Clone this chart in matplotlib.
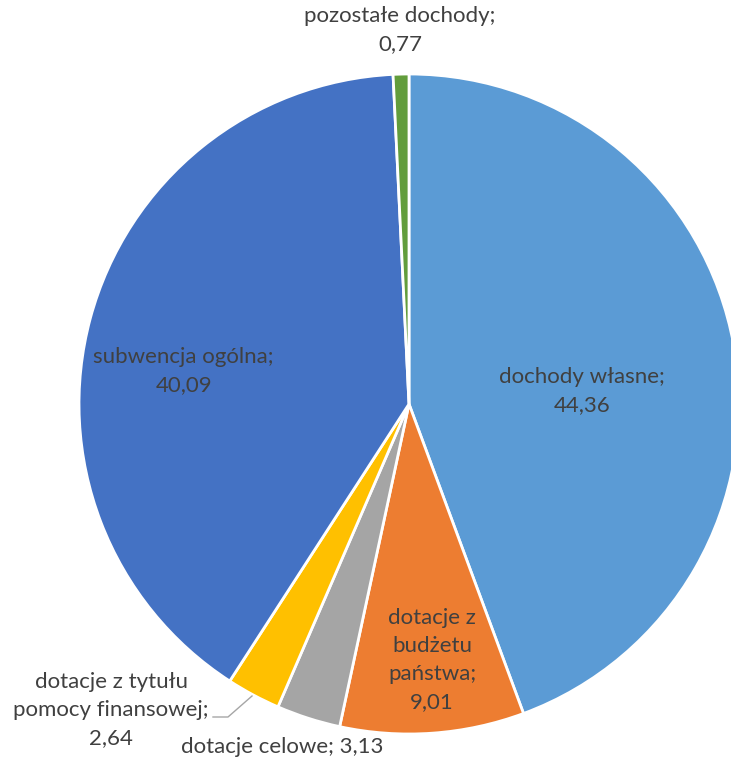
import matplotlib.pyplot as plt
import numpy as np

# dane
labels = ['dochody własne', 'dotacje z\nbudżetu\npaństwa', 'dotacje celowe',
          'dotacje z tytułu\npomocy finansowej', 'subwencja ogólna', 'pozostałe dochody']
values = [44.36, 9.01, 3.13, 2.64, 40.09, 0.77]
colors = ['#5B9BD5', '#ED7D31', '#A5A5A5', '#FFC000', '#4472C4', '#629D3C']

# gdzie stoją etykiety (w jednostkach promienia)
lab_pos = [(0.524, 0.04), (0.07, -0.776), (-0.385, -1.04),
           (-0.903, -0.927), (-0.683, 0.10), (-0.027, 1.133)]
lab_sep = [';\n', ';\n', '; ', ';\n', ';\n', ';\n']

plt.rcParams['font.family'] = ['Lato', 'DejaVu Sans']

fig = plt.figure(figsize=(7.31, 7.62), dpi=100)
W, H = 731, 762
cx, cy, R = 409, 404, 330
ax = fig.add_axes([(cx - R) / W, (H - cy - R) / H, 2 * R / W, 2 * R / H])

wedges, _ = ax.pie(values, colors=colors, startangle=90, counterclock=False,
                   radius=1, wedgeprops=dict(edgecolor='white', linewidth=2))
ax.set_xlim(-1, 1)
ax.set_ylim(-1, 1)
ax.set_aspect('equal')
ax.axis('off')

for lab, v, (x, y), sep in zip(labels, values, lab_pos, lab_sep):
    txt = lab + sep + ('%.2f' % v).replace('.', ',')
    ax.text(x, y, txt, ha='center', va='center', fontsize=16, color='#404040',
            linespacing=1.5, clip_on=False)

# linia do etykiety "pomocy finansowej"
lx = np.array([213, 228, 252])
ly = np.array([717, 717, 696])
ax.plot((lx - cx) / R, (cy - ly) / R, color='#A6A6A6', lw=1, clip_on=False)

fig.savefig('out.png', dpi=100)
